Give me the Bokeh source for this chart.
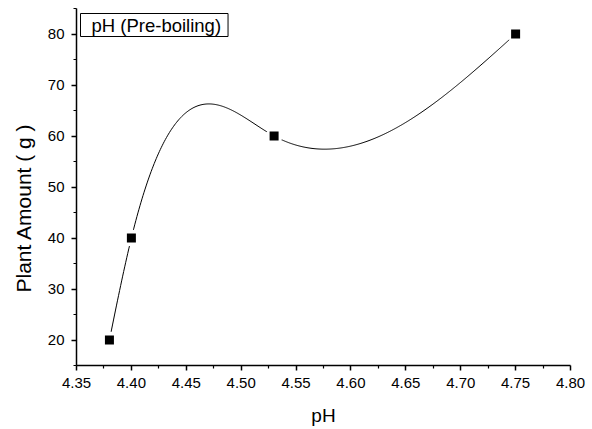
import numpy as np
from bokeh.plotting import figure
from bokeh.models import FixedTicker, NumeralTickFormatter, Label, Range1d, Title
from bokeh.embed import file_html
from bokeh.resources import INLINE

ph = [4.38, 4.40, 4.53, 4.75]
amount = [20, 40, 60, 80]
legend_text = "pH (Pre-boiling)"
x_label = "pH"
y_label = "Plant Amount ( g )"
x_ticks = [4.35, 4.40, 4.45, 4.50, 4.55, 4.60, 4.65, 4.70, 4.75, 4.80]
x_minor = [4.375, 4.425, 4.475, 4.525, 4.575, 4.625, 4.675, 4.725, 4.775]
y_ticks = [20, 30, 40, 50, 60, 70, 80]
y_minor = [15, 25, 35, 45, 55, 65, 75, 85]


def natural_spline(xs, ys, n=400):
    xs = np.asarray(xs, float)
    ys = np.asarray(ys, float)
    k = len(xs)
    h = np.diff(xs)
    A = np.zeros((k, k))
    b = np.zeros(k)
    A[0, 0] = 1
    A[-1, -1] = 1
    for i in range(1, k - 1):
        A[i, i - 1] = h[i - 1]
        A[i, i] = 2 * (h[i - 1] + h[i])
        A[i, i + 1] = h[i]
        b[i] = 6 * ((ys[i + 1] - ys[i]) / h[i] - (ys[i] - ys[i - 1]) / h[i - 1])
    M = np.linalg.solve(A, b)
    xx = np.linspace(xs[0], xs[-1], n)
    yy = np.empty_like(xx)
    for j, x in enumerate(xx):
        i = min(np.searchsorted(xs, x, side="right") - 1, k - 2)
        a = xs[i + 1] - x
        c = x - xs[i]
        yy[j] = (M[i] * a**3 / (6 * h[i]) + M[i + 1] * c**3 / (6 * h[i])
                 + (ys[i] / h[i] - M[i] * h[i] / 6) * a
                 + (ys[i + 1] / h[i] - M[i + 1] * h[i] / 6) * c)
    return xx, yy


FONT = "Liberation Sans"

p = figure(width=588, height=428, output_backend="svg", toolbar_location=None,
           x_range=Range1d(4.35, 4.80), y_range=Range1d(15, 85),
           min_border_left=75, min_border_right=18, min_border_top=8,
           min_border_bottom=62)
p.outline_line_color = None
p.xgrid.grid_line_color = None
p.ygrid.grid_line_color = None

sx, sy = natural_spline(ph, amount)
p.line(sx, sy, line_color="black", line_width=1.0)
p.scatter(ph, amount, marker="circle", size=17, fill_color="white", line_color=None)
p.scatter(ph, amount, marker="square", size=9, fill_color="black", line_color=None)

for ax in (p.xaxis[0], p.yaxis[0]):
    ax.axis_line_width = 1.5
    ax.major_tick_line_width = 1.5
    ax.minor_tick_line_width = 1.2
    ax.major_tick_out = 5
    ax.major_tick_in = 0
    ax.minor_tick_out = 3
    ax.minor_tick_in = 0
    ax.major_label_text_font = FONT
    ax.major_label_text_font_size = "15px"
    ax.major_label_text_color = "black"
    ax.axis_label_text_font = FONT
    ax.axis_label_text_font_size = "19px"
    ax.axis_label_text_font_style = "normal"
    ax.axis_label_text_color = "black"

p.xaxis.ticker = FixedTicker(ticks=x_ticks, minor_ticks=x_minor)
p.xaxis.formatter = NumeralTickFormatter(format="0.00")
p.xaxis.axis_label = x_label
p.xaxis.major_label_standoff = 7
p.xaxis.axis_label_standoff = 14

p.yaxis.ticker = FixedTicker(ticks=y_ticks, minor_ticks=y_minor)
p.yaxis.major_label_standoff = 7

ytitle = Title(text=y_label, align="left", offset=73, text_font=FONT,
               text_font_size="21px", text_font_style="normal",
               text_color="black", standoff=19)
p.add_layout(ytitle, "left")

lab = Label(x=4, y=329, x_units="screen", y_units="screen", text=legend_text,
            text_font=FONT, text_font_size="18.5px", text_color="black",
            border_line_color="black", border_line_width=1,
            background_fill_color="white",
            padding={"left": 11, "right": 7, "top": 1, "bottom": 1})
p.add_layout(lab)

open("out.html", "w").write(file_html(p, INLINE))
